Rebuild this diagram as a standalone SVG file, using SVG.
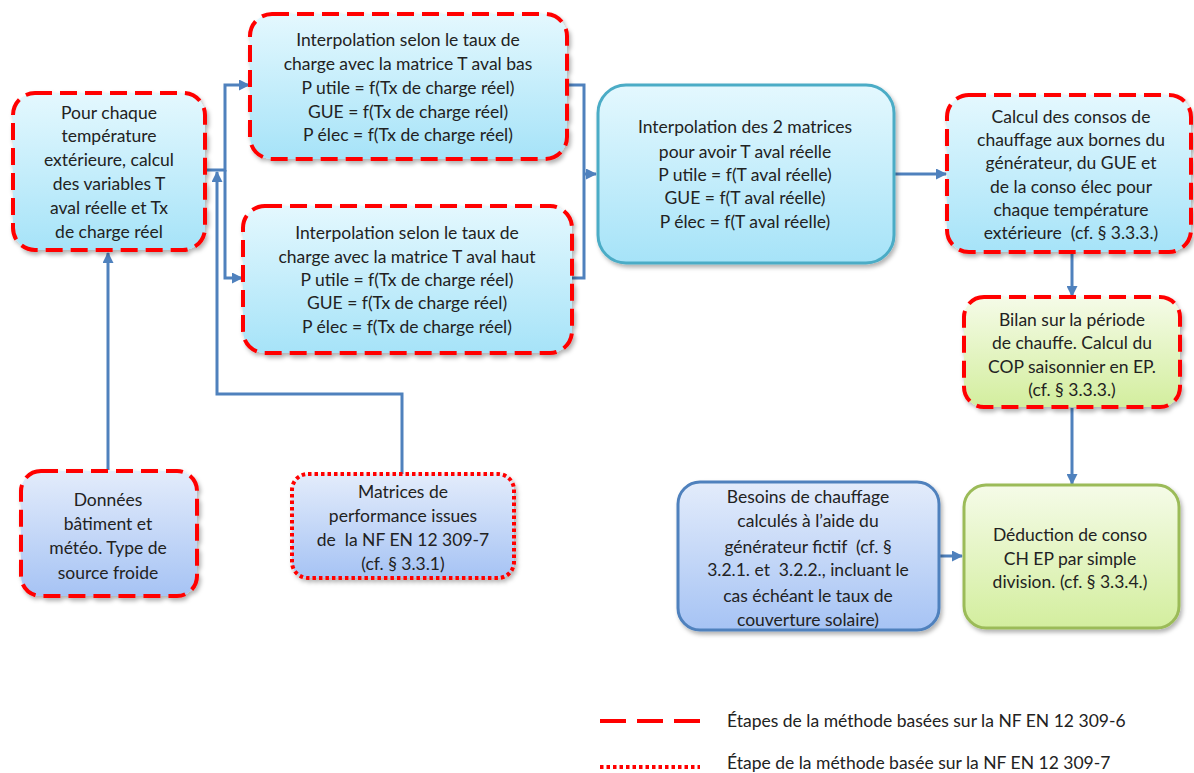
<svg xmlns="http://www.w3.org/2000/svg" width="1194" height="773" viewBox="0 0 1194 773">
<defs>
<linearGradient id="gCyan" x1="0" y1="0" x2="0" y2="1"><stop offset="0" stop-color="#E4F8FE"/><stop offset="1" stop-color="#A6E3F8"/></linearGradient>
<linearGradient id="gBlue" x1="0" y1="0" x2="0" y2="1"><stop offset="0" stop-color="#E3ECFB"/><stop offset="1" stop-color="#A6C3F4"/></linearGradient>
<linearGradient id="gGreen" x1="0" y1="0" x2="0" y2="1"><stop offset="0" stop-color="#F5FBE8"/><stop offset="1" stop-color="#D3EE9E"/></linearGradient>
<filter id="sh" x="-10%" y="-10%" width="125%" height="130%"><feDropShadow dx="2" dy="3" stdDeviation="2" flood-color="#000" flood-opacity="0.3"/></filter>
<marker id="arr" markerUnits="userSpaceOnUse" markerWidth="11" markerHeight="11" refX="10" refY="5.5" orient="auto"><path d="M0,0 L11,5.5 L0,11 z" fill="#4F81BD"/></marker>
</defs>
<style>
.t{font-family:Lato,"Liberation Sans",sans-serif;font-size:17.5px;fill:#222;text-anchor:middle}
.lg{font-family:Lato,"Liberation Sans",sans-serif;font-size:17.5px;fill:#222}
.dash{stroke:#FF0000;stroke-width:4;stroke-dasharray:17 8}
.dot{stroke:#FF0000;stroke-width:4;stroke-dasharray:3.5 3}
.c{fill:none;stroke:#4F81BD;stroke-width:3}
</style>
<g id="connectors">
<path class="c" d="M206,170 H225 V85 H249" marker-end="url(#arr)"/>
<path class="c" d="M225,170 V278 H242" marker-end="url(#arr)"/>
<path class="c" d="M108,470 V253" marker-end="url(#arr)"/>
<path class="c" d="M402,474 V394 H217 V172" marker-end="url(#arr)"/>
<path class="c" d="M567,85 H584 V278 H572"/>
<path class="c" d="M584,174 H596" marker-end="url(#arr)"/>
<path class="c" d="M894,174 H946" marker-end="url(#arr)"/>
<path class="c" d="M1072,253 V296" marker-end="url(#arr)"/>
<path class="c" d="M1072,408 V484" marker-end="url(#arr)"/>
<path class="c" d="M939,556 H962" marker-end="url(#arr)"/>
</g>
<g id="n1">
<rect x="13" y="93" width="192" height="157" rx="22" fill="url(#gCyan)" class="dash" filter="url(#sh)"/>
<text class="t" x="109" y="119">Pour chaque</text>
<text class="t" x="109" y="142">température</text>
<text class="t" x="109" y="166">extérieure, calcul</text>
<text class="t" x="109" y="190">des variables T</text>
<text class="t" x="109" y="214">aval réelle et Tx</text>
<text class="t" x="109" y="238">de charge réel</text>
</g>
<g id="n2">
<rect x="250" y="14" width="317" height="145" rx="22" fill="url(#gCyan)" class="dash" filter="url(#sh)"/>
<text class="t" x="408" y="46">Interpolation selon le taux de</text>
<text class="t" x="408" y="70">charge avec la matrice T aval bas</text>
<text class="t" x="408" y="94">P utile = f(Tx de charge réel)</text>
<text class="t" x="408" y="118">GUE = f(Tx de charge réel)</text>
<text class="t" x="408" y="141">P élec = f(Tx de charge réel)</text>
</g>
<g id="n3">
<rect x="243" y="206" width="329" height="147" rx="22" fill="url(#gCyan)" class="dash" filter="url(#sh)"/>
<text class="t" x="407" y="239">Interpolation selon le taux de</text>
<text class="t" x="407" y="263">charge avec la matrice T aval haut</text>
<text class="t" x="407" y="286">P utile = f(Tx de charge réel)</text>
<text class="t" x="407" y="309">GUE = f(Tx de charge réel)</text>
<text class="t" x="407" y="333">P élec = f(Tx de charge réel)</text>
</g>
<g id="n4">
<rect x="598" y="85" width="296" height="178" rx="28" fill="url(#gCyan)" stroke="#4BACC6" stroke-width="3" filter="url(#sh)"/>
<text class="t" x="745" y="133">Interpolation des 2 matrices</text>
<text class="t" x="745" y="158">pour avoir T aval réelle</text>
<text class="t" x="745" y="181">P utile = f(T aval réelle)</text>
<text class="t" x="745" y="204">GUE = f(T aval réelle)</text>
<text class="t" x="745" y="228">P élec = f(T aval réelle)</text>
</g>
<g id="n5">
<rect x="947" y="95" width="244" height="157" rx="22" fill="url(#gCyan)" class="dash" filter="url(#sh)"/>
<text class="t" x="1071" y="123">Calcul des consos de</text>
<text class="t" x="1071" y="146">chauffage aux bornes du</text>
<text class="t" x="1071" y="169">générateur, du GUE et</text>
<text class="t" x="1071" y="193">de la conso élec pour</text>
<text class="t" x="1071" y="216">chaque température</text>
<text class="t" x="1071" y="239" xml:space="preserve">extérieure  (cf. § 3.3.3.)</text>
</g>
<g id="n6">
<rect x="964" y="297" width="216" height="110" rx="20" fill="url(#gGreen)" class="dash" filter="url(#sh)"/>
<text class="t" x="1072" y="326">Bilan sur la période</text>
<text class="t" x="1072" y="349">de chauffe. Calcul du</text>
<text class="t" x="1072" y="373">COP saisonnier en EP.</text>
<text class="t" x="1072" y="396">(cf. § 3.3.3.)</text>
</g>
<g id="n7">
<rect x="21" y="471" width="176" height="125" rx="20" fill="url(#gBlue)" class="dash" filter="url(#sh)"/>
<text class="t" x="108" y="506">Données</text>
<text class="t" x="108" y="530">bâtiment et</text>
<text class="t" x="108" y="554">météo. Type de</text>
<text class="t" x="108" y="579">source froide</text>
</g>
<g id="n8">
<rect x="292" y="474" width="222" height="104" rx="16" fill="url(#gBlue)" class="dot" filter="url(#sh)"/>
<text class="t" x="403" y="498">Matrices de</text>
<text class="t" x="403" y="522">performance issues</text>
<text class="t" x="403" y="546" xml:space="preserve">de  la NF EN 12 309-7</text>
<text class="t" x="403" y="570">(cf. § 3.3.1)</text>
</g>
<g id="n9">
<rect x="678" y="482" width="261" height="148" rx="22" fill="url(#gBlue)" stroke="#4F81BD" stroke-width="3" filter="url(#sh)"/>
<text class="t" x="808" y="503">Besoins de chauffage</text>
<text class="t" x="808" y="527">calculés à l’aide du</text>
<text class="t" x="808" y="553" xml:space="preserve">générateur fictif  (cf. §</text>
<text class="t" x="808" y="576" xml:space="preserve">3.2.1. et  3.2.2., incluant le</text>
<text class="t" x="808" y="602">cas échéant le taux de</text>
<text class="t" x="808" y="626">couverture solaire)</text>
</g>
<g id="n10">
<rect x="964" y="485" width="215" height="143" rx="22" fill="url(#gGreen)" stroke="#9BBB59" stroke-width="3" filter="url(#sh)"/>
<text class="t" x="1070" y="541">Déduction de conso</text>
<text class="t" x="1070" y="565">CH EP par simple</text>
<text class="t" x="1070" y="588">division. (cf. § 3.3.4.)</text>
</g>
<g id="legend">
<line x1="600" y1="721" x2="700" y2="721" stroke="#FF0000" stroke-width="4" stroke-dasharray="26 11"/>
<text class="lg" x="727" y="727">Étapes de la méthode basées sur la NF EN 12 309-6</text>
<line x1="600" y1="767" x2="700" y2="767" stroke="#FF0000" stroke-width="4" stroke-dasharray="3.5 3"/>
<text class="lg" x="727" y="769">Étape de la méthode basée sur la NF EN 12 309-7</text>
</g>
</svg>
